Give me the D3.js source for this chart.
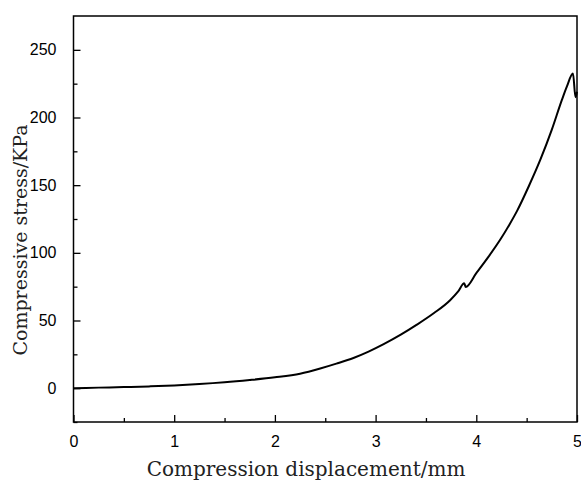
<!DOCTYPE html>
<html>
<head>
<meta charset="utf-8">
<script src="https://cdn.jsdelivr.net/npm/d3@7"></script>
<style>
  body { margin: 0; background: #fff; }
  svg { display: block; }
</style>
</head>
<body>
<div id="chart"></div>
<script>
// displacement (mm) and stress (KPa)
const displacement = [0, 0.25, 0.5, 0.75, 1.0, 1.25, 1.5, 1.75, 2.0, 2.25, 2.45, 2.61, 2.78,
  2.93, 3.08, 3.25, 3.41, 3.58, 3.74, 3.82, 3.88, 3.895, 4.0, 4.12, 4.24, 4.33, 4.405,
  4.52, 4.637, 4.75, 4.85, 4.9, 4.96, 4.985, 5.0];
const stress = [0, 0.4, 0.8, 1.3, 2.0, 3.0, 4.3, 6.0, 8.0, 10.7, 14.5, 18.1, 22.3,
  27, 32.5, 39.5, 46.9, 55.5, 65, 71.5, 77.5, 74.8, 85, 97, 110, 121, 131,
  149, 169, 191, 213, 223, 232.5, 215, 219];
const xTicks = [0, 1, 2, 3, 4, 5];
const yTicks = [0, 50, 100, 150, 200, 250];
const xMinor = [0.5, 1.5, 2.5, 3.5, 4.5];
const yMinor = [-25, 25, 75, 125, 175, 225];

const width = 581, height = 480;
const margin = {left: 73.5, top: 16, right: 4, bottom: 58};

const svg = d3.select("#chart").append("svg")
  .attr("width", width)
  .attr("height", height);

const x = d3.scaleLinear().domain([0, 5]).range([margin.left, width - margin.right]);
const y = d3.scaleLinear().domain([-25, 275]).range([height - margin.bottom, margin.top]);

const data = displacement.map((d, i) => ({x: d, y: stress[i]}));

// curve
svg.append("path")
  .datum(data)
  .attr("fill", "none")
  .attr("stroke", "#000")
  .attr("stroke-width", 2)
  .attr("stroke-linejoin", "round")
  .attr("d", d3.line().curve(d3.curveMonotoneX).x(d => x(d.x)).y(d => y(d.y)));

// axes with inward ticks
svg.append("g")
  .attr("transform", `translate(0,${y(-25)})`)
  .call(d3.axisBottom(x).tickValues(xTicks).tickFormat(d3.format("d"))
    .tickSizeInner(-7).tickSizeOuter(0).tickPadding(14));
svg.append("g")
  .attr("transform", `translate(0,${y(-25)})`)
  .call(d3.axisBottom(x).tickValues(xMinor).tickSizeInner(-4).tickSizeOuter(0).tickFormat(""));

svg.append("g")
  .attr("transform", `translate(${x(0)},0)`)
  .call(d3.axisLeft(y).tickValues(yTicks).tickFormat(d3.format("d"))
    .tickSizeInner(-7).tickSizeOuter(0).tickPadding(17));
svg.append("g")
  .attr("transform", `translate(${x(0)},0)`)
  .call(d3.axisLeft(y).tickValues(yMinor).tickSizeInner(-4).tickSizeOuter(0).tickFormat(""));

svg.selectAll(".domain").remove();
svg.selectAll(".tick line").attr("stroke", "#000").attr("stroke-width", 1.3);
svg.selectAll(".tick text")
  .attr("fill", "#000")
  .style("font-family", "'Liberation Sans', Arial, sans-serif")
  .style("font-size", "16px");

// frame
svg.append("rect")
  .attr("x", x(0))
  .attr("y", y(275))
  .attr("width", x(5) - x(0))
  .attr("height", y(-25) - y(275))
  .attr("fill", "none")
  .attr("stroke", "#000")
  .attr("stroke-width", 1.5);

// axis titles
svg.append("text")
  .attr("x", 306)
  .attr("y", 476)
  .attr("text-anchor", "middle")
  .style("font-family", "'DejaVu Serif', serif")
  .style("font-size", "20px")
  .attr("fill", "#222")
  .text("Compression displacement/mm");

svg.append("text")
  .attr("transform", "translate(27,240) rotate(-90)")
  .attr("text-anchor", "middle")
  .style("font-family", "'DejaVu Serif', serif")
  .style("font-size", "19px")
  .attr("fill", "#222")
  .text("Compressive stress/KPa");
</script>
</body>
</html>
